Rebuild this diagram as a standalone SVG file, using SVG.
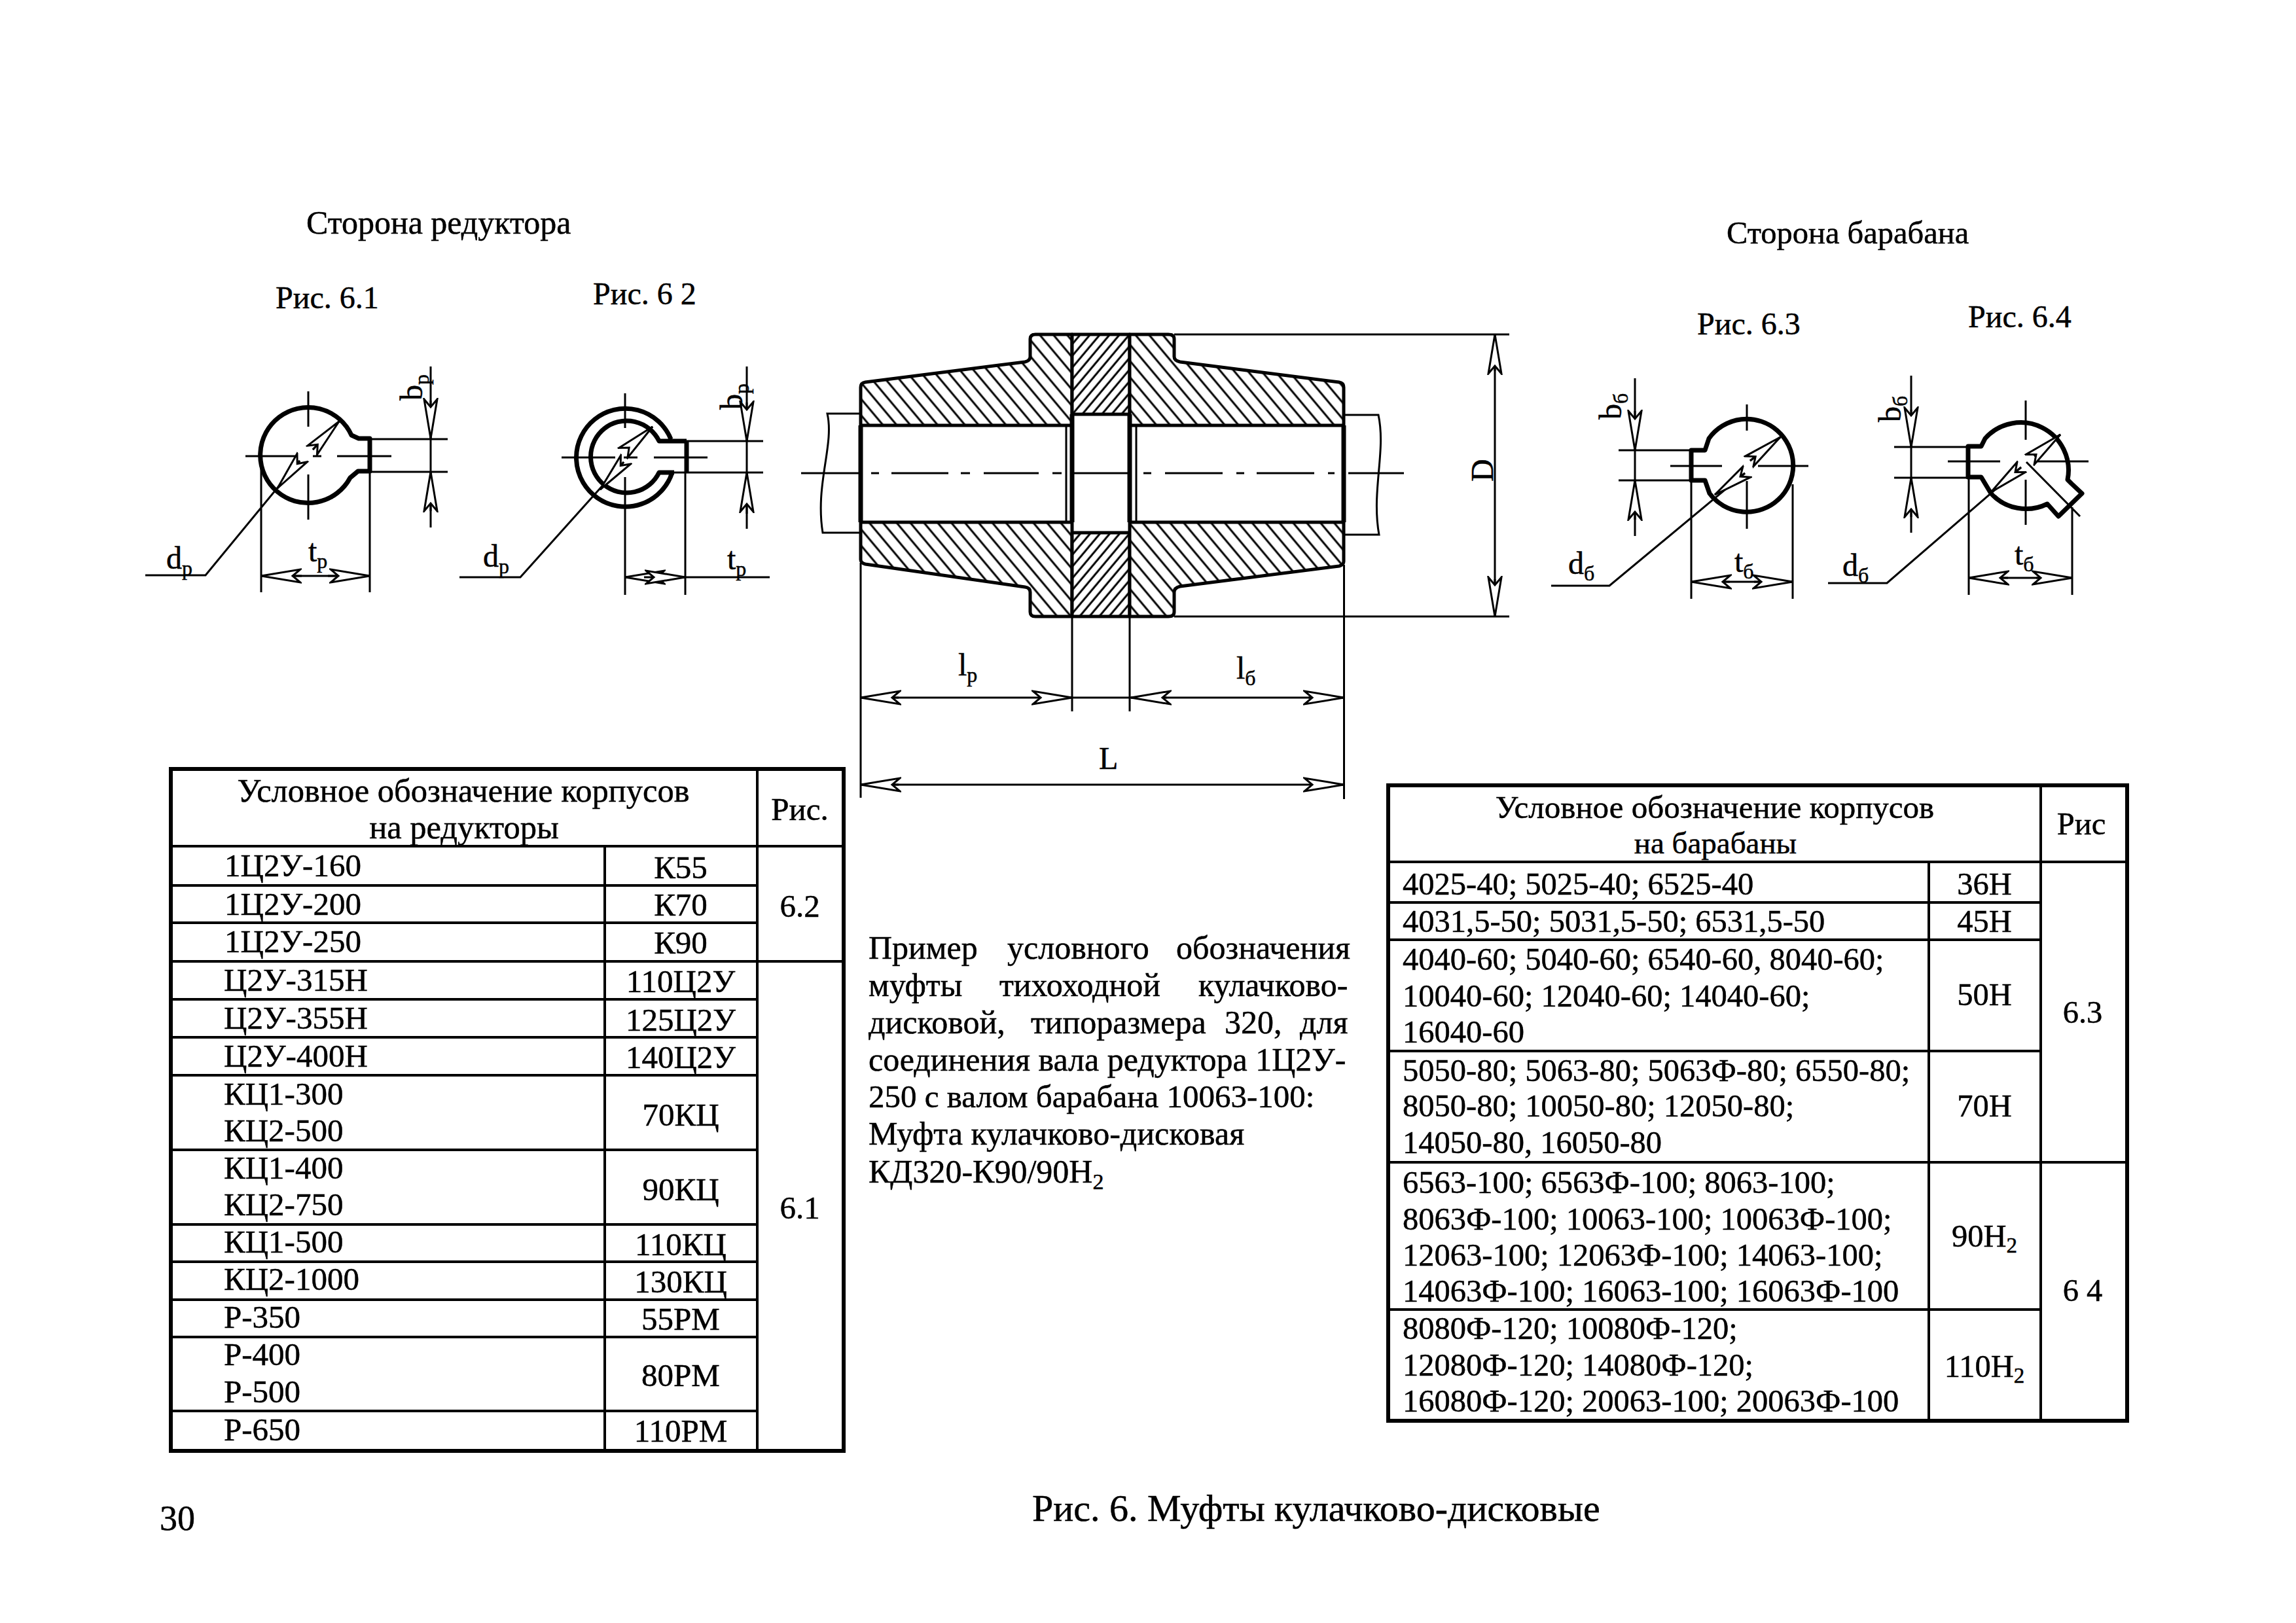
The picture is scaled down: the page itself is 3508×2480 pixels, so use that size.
<svg xmlns="http://www.w3.org/2000/svg" width="3508" height="2480" viewBox="0 0 3508 2480">
<style>
text{font-family:"Liberation Serif","Times New Roman",serif;fill:#000;stroke:#000;stroke-width:.5}
.s47{font-size:48px}.s54{font-size:49px}.s49{font-size:48.500px}.s51{font-size:50px}.lab{font-size:48px}
.m{text-anchor:middle}
.thin{fill:none;stroke:#000;stroke-width:3}
.thick{fill:none;stroke:#000;stroke-width:7;stroke-linejoin:round}
.body{stroke:#000;stroke-width:5;stroke-linejoin:round}
.arr{fill:none;stroke:#000;stroke-width:3;marker-end:url(#ah)}
.outer{fill:none;stroke:#000;stroke-width:6}
.inner{fill:none;stroke:#000;stroke-width:4}
</style>
<defs>
<marker id="ah" markerUnits="userSpaceOnUse" markerWidth="66" markerHeight="28" refX="62" refY="14" orient="auto"><path d="M62,14 L2,4 L14,14 L2,24 Z" fill="#fff" stroke="#000" stroke-width="3"/></marker>
<pattern id="h1" patternUnits="userSpaceOnUse" width="16" height="16" patternTransform="rotate(50)"><rect width="16" height="16" fill="#fff"/><line x1="0" y1="8" x2="16" y2="8" stroke="#000" stroke-width="3"/></pattern>
<pattern id="h2" patternUnits="userSpaceOnUse" width="11.500" height="12" patternTransform="rotate(40)"><rect width="12" height="12" fill="#fff"/><line x1="6" y1="0" x2="6" y2="12" stroke="#000" stroke-width="3"/></pattern>
</defs>
<rect width="3508" height="2480" fill="#fff"/>

<g id="headings">
<text font-size="50" x="468" y="357">Сторона редуктора</text>
<text font-size="48.500" x="2638" y="372">Сторона барабана</text>
<text class="s47" x="421" y="471">Рис. 6.1</text>
<text class="s47" x="906" y="465">Рис. 6 2</text>
<text class="s47" x="2593" y="511">Рис. 6.3</text>
<text class="s47" x="3007" y="500">Рис. 6.4</text>
</g>

<g id="fig-6-1">
<path class="thick" d="M537,665 L548,670 H565 V720 H547 L535,730 A73,73 0 1 1 537,665 Z"/>
<path class="thin" d="M375,697 H453 M478,697 H491 M515,697 H598 M471,598 V652 M471,725 V794 M565,671 H684 M547,721 H684 M658,560 V806 M399,700 V905 M565,720 V905 M399,880 H565 M222,879 H314 L458,704 M478,687 L518,644"/>
<path class="arr" d="M658,612 V670"/><path class="arr" d="M658,781 V721"/>
<path class="arr" d="M461,880 H399"/><path class="arr" d="M501,880 H565"/>
<path class="arr" d="M478,687 L518,644"/><path class="arr" d="M458,704 L424,746"/>
<text class="lab" x="254" y="869">d<tspan dy="10" font-size="32">р</tspan></text>
<text class="lab" x="471" y="858">t<tspan dy="10" font-size="32">р</tspan></text>
<text class="lab" transform="translate(645,612) rotate(-90)">b<tspan dy="10" font-size="32">р</tspan></text>
</g>

<g id="fig-6-2">
<path class="thick" d="M1025,671 A75,75 0 1 0 1027,722 M1049,674 H1007 A55,55 0 1 0 1007,722 H1030 M1049,674 V722"/>
<path class="thin" d="M858,699 H940 M953,699 H974 M999,699 H1081 M955,601 V654 M955,729 V909 M1047,722 V909 M1049,674 H1166 M1030,722 H1166 M1141,560 V808 M955,882 H1176 M702,882 H795 L953,706 M960,685 L997,652"/>
<path class="arr" d="M1141,615 V674"/><path class="arr" d="M1141,785 V722"/>
<path class="arr" d="M1020,882 H955"/><path class="arr" d="M984,882 H1047"/>
<path class="arr" d="M960,685 L997,652"/><path class="arr" d="M953,706 L917,748"/>
<text class="lab" x="738" y="866">d<tspan dy="10" font-size="32">р</tspan></text>
<text class="lab" x="1111" y="870">t<tspan dy="10" font-size="32">р</tspan></text>
<text class="lab" transform="translate(1134,626) rotate(-90)">b<tspan dy="10" font-size="32">р</tspan></text>
</g>

<g id="coupling">
<path class="thin" d="M1315,632 H1264 C1275,680 1245,740 1257,814 H1315 M2054,634 H2106 C2118,690 2095,750 2107,817 H2054 M1629,650 V798 M1736,650 V798"/>
<path class="body" fill="url(#h1)" d="M1315,650 V592 Q1315,585 1322,584 L1566,553 Q1574,551 1574,545 V518 Q1574,511 1582,511 H1638 V650 Z"/>
<path class="body" fill="url(#h2)" d="M1638,511 H1726 V633 H1638 Z"/>
<path class="body" fill="url(#h1)" d="M1726,650 V511 H1785 Q1794,511 1794,518 V545 Q1794,551 1803,553 L2046,584 Q2053,585 2053,592 V650 Z"/>
<path class="body" fill="url(#h1)" d="M1315,798 V855 Q1315,860 1322,862 L1566,897 Q1574,898 1574,905 V935 Q1574,942 1582,942 H1638 V798 Z"/>
<path class="body" fill="url(#h2)" d="M1638,814 H1726 V942 H1638 Z"/>
<path class="body" fill="url(#h1)" d="M1726,798 H2053 V858 Q2053,863 2046,865 L1803,896 Q1794,898 1794,905 V935 Q1794,942 1785,942 H1726 Z"/>
<path class="thick" d="M1638,633 V798 M1726,633 V798 M1315,650 V798 M2053,650 V798"/>
<path class="thin" d="M1224,723 H1312 M1331,723 H1343 M1362,723 H1449 M1468,723 H1482 M1503,723 H1587 M1608,723 H1622 M1638,723 H1726 M1747,723 H1759 M1780,723 H1868 M1889,723 H1901 M1920,723 H2008 M2029,723 H2039 M2060,723 H2145"/>
<path class="thin" d="M1638,942 V1087 M1726,942 V1087 M1315,860 V1219 M2053.500,863 V1221 M1794,511 H2306 M1794,942 H2306 M2284,511 V942 M1315,1066 H2053 M1315,1199 H2053"/>
<path class="arr" d="M2284,567 V511"/><path class="arr" d="M2284,885 V942"/>
<path class="arr" d="M1373,1066 H1315"/><path class="arr" d="M1587,1066 H1638"/><path class="arr" d="M1783,1066 H1728"/><path class="arr" d="M1999,1066 H2053"/>
<path class="arr" d="M1373,1199 H1315"/><path class="arr" d="M2001,1199 H2053"/>
<text class="lab" transform="translate(2281,736) rotate(-90)">D</text>
<text class="lab" x="1464" y="1032">l<tspan dy="10" font-size="32">р</tspan></text>
<text class="lab" x="1889" y="1037">l<tspan dy="10" font-size="32">б</tspan></text>
<text class="lab" x="1679" y="1175">L</text>
</g>

<g id="fig-6-3">
<path class="thick" d="M2611,670 L2605,688 H2584 V734 H2605 L2612,754 A71,71 0 1 0 2611,670 Z"/>
<path class="thin" d="M2552,712 H2631 M2686,712 H2763 M2669,618 V658 M2669,735 V808 M2473,688 H2584 M2473,734 H2584 M2498,578 V819 M2584,734 V915 M2739,740 V915 M2584,889 H2739 M2370,895 H2459 L2666,723 M2674,704 L2720,668"/>
<path class="arr" d="M2498,628 V688"/><path class="arr" d="M2498,794 V734"/>
<path class="arr" d="M2643,889 H2584"/><path class="arr" d="M2680,889 H2739"/>
<path class="arr" d="M2674,704 L2720,668"/><path class="arr" d="M2666,723 L2620,756"/>
<text class="lab" x="2396" y="877">d<tspan dy="10" font-size="32">б</tspan></text>
<text class="lab" x="2650" y="874">t<tspan dy="10" font-size="32">б</tspan></text>
<text class="lab" transform="translate(2477,641) rotate(-90)">b<tspan dy="10" font-size="32">б</tspan></text>
</g>

<g id="fig-6-4">
<path class="thick" d="M3033,670 L3027,682 H3007 V729 H3027 L3042,754 A73,73 0 0 0 3128,770 L3145,789 L3181,754 L3165,739 L3159,733 A73,73 0 0 0 3033,670 Z"/>
<path class="thin" d="M2976,705 H3056 M3111,705 H3191 M3095,612 V672 M3095,733 V802 M3096,706 L3178,789 M2894,683 H3007 M2894,730 H3007 M2920,574 V814 M3008,730 V909 M3166,775 V909 M3008,883 H3166 M2793,891 H2883 L3088,714 M3108,697 L3148,664"/>
<path class="arr" d="M2920,626 V683"/><path class="arr" d="M2920,790 V730"/>
<path class="arr" d="M3068,883 H3008"/><path class="arr" d="M3111,883 H3166"/>
<path class="arr" d="M3108,697 L3148,664"/><path class="arr" d="M3088,714 L3042,752"/>
<text class="lab" x="2815" y="880">d<tspan dy="10" font-size="32">б</tspan></text>
<text class="lab" x="3078" y="863">t<tspan dy="10" font-size="32">б</tspan></text>
<text class="lab" transform="translate(2904,645) rotate(-90)">b<tspan dy="10" font-size="32">б</tspan></text>
</g>

<g id="table-reducers">
<rect class="outer" x="261" y="1175" width="1028" height="1042"/>
<path class="inner" d="M261,1293 H1289 M1157,1175 V2217 M924,1293 V2217 M261,1353 H1157 M261,1410 H1157 M261,1469 H1289 M261,1527 H1157 M261,1585 H1157 M261,1643 H1157 M261,1757 H1157 M261,1871 H1157 M261,1928 H1157 M261,1986 H1157 M261,2043 H1157 M261,2156 H1157"/>
<text font-size="50.500" class="m" x="708" y="1225">Условное обозначение корпусов</text>
<text font-size="50.500" class="m" x="709" y="1281">на редукторы</text>
<text class="s54 m" x="1222" y="1253">Рис.</text>
<text class="s54" x="343" y="1339">1Ц2У-160</text>
<text class="s54" x="343" y="1398">1Ц2У-200</text>
<text class="s54" x="343" y="1455">1Ц2У-250</text>
<text class="s54" x="342" y="1514">Ц2У-315Н</text>
<text class="s54" x="342" y="1572">Ц2У-355Н</text>
<text class="s54" x="342" y="1630">Ц2У-400Н</text>
<text class="s54" x="342" y="1688">КЦ1-300</text>
<text class="s54" x="342" y="1744">КЦ2-500</text>
<text class="s54" x="342" y="1801">КЦ1-400</text>
<text class="s54" x="342" y="1857">КЦ2-750</text>
<text class="s54" x="342" y="1914">КЦ1-500</text>
<text class="s54" x="342" y="1971">КЦ2-1000</text>
<text class="s54" x="342" y="2029">Р-350</text>
<text class="s54" x="342" y="2086">Р-400</text>
<text class="s54" x="342" y="2143">Р-500</text>
<text class="s54" x="342" y="2201">Р-650</text>
<text class="s54 m" x="1040" y="1342">К55</text>
<text class="s54 m" x="1040" y="1399">К70</text>
<text class="s54 m" x="1040" y="1457">К90</text>
<text class="s54 m" x="1040" y="1516">110Ц2У</text>
<text class="s54 m" x="1040" y="1575">125Ц2У</text>
<text class="s54 m" x="1040" y="1632">140Ц2У</text>
<text class="s54 m" x="1040" y="1720">70КЦ</text>
<text class="s54 m" x="1040" y="1834">90КЦ</text>
<text class="s54 m" x="1040" y="1918">110КЦ</text>
<text class="s54 m" x="1040" y="1975">130КЦ</text>
<text class="s54 m" x="1040" y="2032">55РМ</text>
<text class="s54 m" x="1040" y="2118">80РМ</text>
<text class="s54 m" x="1040" y="2203">110РМ</text>
<text class="s54 m" x="1222" y="1401">6.2</text>
<text class="s54 m" x="1222" y="1862">6.1</text>
</g>

<g id="example-text">
<text class="s51" y="1465"><tspan x="1327">Пример</tspan><tspan x="1539">условного</tspan><tspan x="1797">обозначения</tspan></text>
<text class="s51" y="1522"><tspan x="1327">муфты</tspan><tspan x="1527">тихоходной</tspan><tspan x="1831">кулачково-</tspan></text>
<text class="s51" y="1579"><tspan x="1327">дисковой,</tspan><tspan x="1575">типоразмера</tspan><tspan x="1871">320,</tspan><tspan x="1986">для</tspan></text>
<text class="s51" x="1327" y="1636">соединения вала редуктора 1Ц2У-</text>
<text font-size="49" x="1327" y="1692">250 с валом барабана 10063-100:</text>
<text class="s51" x="1327" y="1749">Муфта кулачково-дисковая</text>
<text class="s51" x="1327" y="1807">КД320-К90/90Н<tspan dy="10" font-size="34">2</tspan></text>
</g>

<g id="table-drums">
<rect class="outer" x="2121" y="1200" width="1129" height="971"/>
<path class="inner" d="M2121,1317 H3250 M3118,1200 V2171 M2947,1317 V2171 M2121,1379 H3118 M2121,1436 H3118 M2121,1606 H3118 M2121,1776 H3250 M2121,2001 H3118"/>
<text font-size="49" class="m" x="2620" y="1250">Условное обозначение корпусов</text>
<text font-size="47" class="m" x="2621" y="1304">на барабаны</text>
<text class="s49 m" x="3180" y="1275">Рис</text>
<text class="s49" x="2143" y="1367">4025-40; 5025-40; 6525-40</text>
<text class="s49" x="2143" y="1424">4031,5-50; 5031,5-50; 6531,5-50</text>
<text class="s49" x="2143" y="1482">4040-60; 5040-60; 6540-60, 8040-60;</text>
<text class="s49" x="2143" y="1538">10040-60; 12040-60; 14040-60;</text>
<text class="s49" x="2143" y="1593">16040-60</text>
<text class="s49" x="2143" y="1652">5050-80; 5063-80; 5063Ф-80; 6550-80;</text>
<text class="s49" x="2143" y="1706">8050-80; 10050-80; 12050-80;</text>
<text class="s49" x="2143" y="1762">14050-80, 16050-80</text>
<text class="s49" x="2143" y="1823">6563-100; 6563Ф-100; 8063-100;</text>
<text class="s49" x="2143" y="1879">8063Ф-100; 10063-100; 10063Ф-100;</text>
<text class="s49" x="2143" y="1934">12063-100; 12063Ф-100; 14063-100;</text>
<text class="s49" x="2143" y="1989">14063Ф-100; 16063-100; 16063Ф-100</text>
<text class="s49" x="2143" y="2046">8080Ф-120; 10080Ф-120;</text>
<text class="s49" x="2143" y="2102">12080Ф-120; 14080Ф-120;</text>
<text class="s49" x="2143" y="2157">16080Ф-120; 20063-100; 20063Ф-100</text>
<text class="s49 m" x="3032" y="1367">36Н</text>
<text class="s49 m" x="3032" y="1424">45Н</text>
<text class="s49 m" x="3032" y="1536">50Н</text>
<text class="s49 m" x="3032" y="1706">70Н</text>
<text class="s49 m" x="3032" y="1905">90Н<tspan dy="9" font-size="33">2</tspan></text>
<text class="s49 m" x="3032" y="2104">110Н<tspan dy="9" font-size="33">2</tspan></text>
<text class="s49 m" x="3182" y="1563">6.3</text>
<text class="s49 m" x="3182" y="1988">6 4</text>
</g>

<g id="footer">
<text font-size="54" x="244" y="2338">30</text>
<text font-size="58" x="1577" y="2324">Рис. 6. Муфты кулачково-дисковые</text>
</g>
</svg>
